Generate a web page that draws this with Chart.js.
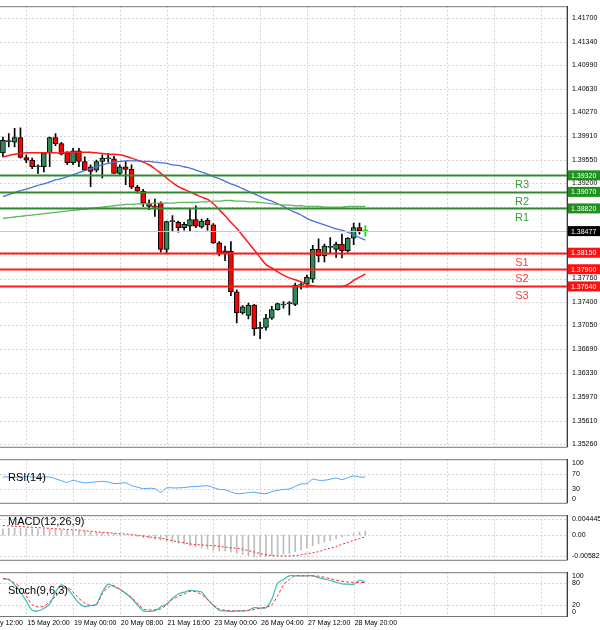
<!DOCTYPE html>
<html><head><meta charset="utf-8">
<script src="https://cdn.jsdelivr.net/npm/chart.js@4.4.0/dist/chart.umd.min.js"></script>
<style>
body{margin:0;background:#fff;width:600px;height:630px;overflow:hidden;font-family:Arial,"Liberation Sans",sans-serif}
.p{position:absolute;left:0;width:600px}
</style></head><body>
<div class="p" style="top:0;height:453px"><canvas id="main"></canvas></div>
<div class="p" style="top:453px;height:56px"><canvas id="rsi"></canvas></div>
<div class="p" style="top:509px;height:57px"><canvas id="macd"></canvas></div>
<div class="p" style="top:566px;height:64px"><canvas id="stoch"></canvas></div>
<script>
// candles (open, high, low, close)
var opens  = [1.3966,1.3983,1.3982,1.3989,1.3959,1.3955,1.3945,1.3945,1.3966,1.3989,1.3980,1.3966,1.3951,1.3969,1.3953,1.3945,1.3940,1.3953,1.3957,1.3957,1.3935,1.3945,1.3941,1.3914,1.3908,1.3890,1.3886,1.3890,1.3820,1.3862,1.3861,1.3853,1.3855,1.3865,1.3854,1.3864,1.3857,1.3830,1.3818,1.3817,1.3756,1.3724,1.3720,1.3736,1.3700,1.3702,1.3716,1.3729,1.3736,1.3738,1.3737,1.3766,1.3768,1.3775,1.3820,1.3810,1.3823,1.3820,1.3828,1.3818,1.3837,1.3853,1.3848];
var highs  = [1.3990,1.3995,1.4003,1.4004,1.3963,1.3958,1.3948,1.3967,1.3990,1.3995,1.3982,1.3968,1.3973,1.3973,1.3960,1.3948,1.3955,1.3963,1.3965,1.3961,1.3948,1.3953,1.3948,1.3917,1.3911,1.3895,1.3896,1.3892,1.3863,1.3871,1.3863,1.3861,1.3881,1.3886,1.3866,1.3867,1.3859,1.3832,1.3825,1.3832,1.3759,1.3735,1.3739,1.3737,1.3710,1.3722,1.3734,1.3739,1.3741,1.3741,1.3769,1.3770,1.3781,1.3826,1.3836,1.3828,1.3838,1.3831,1.3843,1.3838,1.3860,1.3860,1.3856];
var lows   = [1.3960,1.3975,1.3975,1.3958,1.3951,1.3942,1.3935,1.3937,1.3945,1.3977,1.3963,1.3948,1.3948,1.3945,1.3939,1.3915,1.3937,1.3928,1.3952,1.3935,1.3933,1.3918,1.3912,1.3905,1.3885,1.3880,1.3870,1.3816,1.3813,1.3848,1.3846,1.3849,1.3848,1.3853,1.3852,1.3849,1.3829,1.3810,1.3803,1.3750,1.3709,1.3722,1.3715,1.3690,1.3685,1.3698,1.3714,1.3728,1.3731,1.3721,1.3735,1.3760,1.3763,1.3770,1.3801,1.3801,1.3815,1.3808,1.3807,1.3816,1.3827,1.3843,1.3840];
var closes = [1.3985,1.3983,1.3989,1.3959,1.3955,1.3945,1.3945,1.3966,1.3989,1.3980,1.3964,1.3951,1.3969,1.3953,1.3940,1.3938,1.3953,1.3958,1.3957,1.3935,1.3945,1.3941,1.3914,1.3908,1.3890,1.3885,1.3884,1.3820,1.3862,1.3862,1.3853,1.3858,1.3865,1.3855,1.3863,1.3857,1.3830,1.3813,1.3814,1.3756,1.3724,1.3733,1.3736,1.3700,1.3702,1.3716,1.3729,1.3738,1.3737,1.3738,1.3766,1.3766,1.3778,1.3820,1.3810,1.3825,1.3823,1.3828,1.3818,1.3837,1.3853,1.3848,1.3848];
var maFast = [1.3960,1.3962,1.3964,1.3965,1.3966,1.3966,1.3966,1.3966,1.3966,1.3966,1.3966,1.3967,1.3967,1.3967,1.3967,1.3967,1.3966,1.3965,1.3964,1.3964,1.3963,1.3961,1.3958,1.3955,1.3952,1.3948,1.3942,1.3935,1.3928,1.3921,1.3915,1.3911,1.3907,1.3903,1.3899,1.3896,1.3889,1.3880,1.3871,1.3861,1.3852,1.3841,1.3830,1.3819,1.3808,1.3797,1.3792,1.3786,1.3781,1.3777,1.3774,1.3771,1.3767,1.3765,1.3764,1.3764,1.3764,1.3764,1.3764,1.3767,1.3773,1.3778,1.3783];
var maMid = [1.3900,1.3903,1.3906,1.3909,1.3911,1.3914,1.3917,1.3919,1.3922,1.3925,1.3927,1.3930,1.3933,1.3936,1.3939,1.3942,1.3945,1.3948,1.3950,1.3952,1.3953,1.3954,1.3954,1.3954,1.3953,1.3953,1.3952,1.3951,1.3950,1.3948,1.3947,1.3945,1.3943,1.3940,1.3937,1.3934,1.3930,1.3927,1.3923,1.3919,1.3916,1.3912,1.3908,1.3904,1.3900,1.3896,1.3893,1.3889,1.3885,1.3880,1.3876,1.3872,1.3867,1.3863,1.3860,1.3857,1.3854,1.3851,1.3849,1.3846,1.3842,1.3838,1.3834];
var maSlow = [1.3867,1.3868,1.3869,1.3870,1.3871,1.3872,1.3873,1.3874,1.3875,1.3876,1.3877,1.3878,1.3879,1.3880,1.3881,1.3882,1.3883,1.3884,1.3885,1.3886,1.3887,1.3888,1.3888,1.3889,1.3889,1.3889,1.3890,1.3890,1.3890,1.3890,1.3891,1.3891,1.3891,1.3891,1.3892,1.3892,1.3893,1.3893,1.3894,1.3894,1.3893,1.3893,1.3892,1.3892,1.3891,1.3890,1.3889,1.3888,1.3887,1.3887,1.3886,1.3886,1.3885,1.3885,1.3885,1.3884,1.3884,1.3884,1.3884,1.3885,1.3885,1.3885,1.3885];
var rsi = [62,62,61,62,63,62,61,62,62,57,52,47,53,49,46,47,49,50,48,44,45,46,38,34,30,31,30,20,32,32,32,33,35,36,37,38,33,28,27,21,16,17,19,20,17,16,22,25,28,29,36,43,44,56,53,53,56,59,55,60,65,62,62];
var macdHist = [0.0018,0.0019,0.0019,0.0019,0.0018,0.0018,0.0017,0.0017,0.0016,0.0016,0.0015,0.0014,0.0013,0.0012,0.0011,0.0010,0.0008,0.0007,0.0005,0.0004,0.0002,0.0000,-0.0002,-0.0004,-0.0007,-0.0009,-0.0012,-0.0014,-0.0017,-0.0020,-0.0023,-0.0026,-0.0030,-0.0033,-0.0036,-0.0039,-0.0043,-0.0045,-0.0045,-0.0048,-0.0052,-0.0055,-0.0058,-0.0062,-0.0061,-0.0060,-0.0058,-0.0056,-0.0054,-0.0052,-0.0047,-0.0041,-0.0036,-0.0030,-0.0025,-0.0020,-0.0016,-0.0011,-0.0006,-0.0002,0.0004,0.0009,0.0011];
var macdSignal = [0.0027,0.0026,0.0025,0.0024,0.0023,0.0022,0.0021,0.0020,0.0019,0.0018,0.0017,0.0016,0.0015,0.0014,0.0012,0.0011,0.0009,0.0008,0.0007,0.0005,0.0004,0.0003,0.0002,-0.0001,-0.0003,-0.0005,-0.0007,-0.0009,-0.0012,-0.0016,-0.0019,-0.0022,-0.0025,-0.0027,-0.0028,-0.0029,-0.0030,-0.0032,-0.0034,-0.0036,-0.0037,-0.0040,-0.0044,-0.0048,-0.0052,-0.0056,-0.0058,-0.0059,-0.0059,-0.0059,-0.0058,-0.0056,-0.0053,-0.0050,-0.0047,-0.0041,-0.0037,-0.0033,-0.0026,-0.0021,-0.0015,-0.0010,-0.0005];
var stochMain = [92,90,75,55,30,5,3,10,22,55,75,65,45,25,15,18,22,55,77,70,63,52,38,20,3,2,4,14,22,38,50,55,60,58,55,35,18,5,3,2,3,3,5,12,11,12,35,80,90,100,100,100,100,100,95,91,87,82,78,77,77,87,83];
var stochSignal = [92,90,80,68,45,20,14,16,28,43,60,68,55,38,25,18,20,50,68,73,62,52,40,25,8,6,6,8,20,35,43,50,57,56,48,35,20,8,5,3,3,3,4,7,11,13,20,45,75,90,100,100,100,100,99,96,92,88,85,83,82,82,81];

var priceTicks = [1.41700,1.41340,1.40990,1.40630,1.40270,1.39910,1.39550,1.39200,1.38840,1.38480,1.38130,1.37760,1.37400,1.37050,1.36690,1.36330,1.35970,1.35610,1.35260];
var levelNames = ['R3','R2','R1','S1','S2','S3'];
var levelValues = [1.3932,1.3907,1.3882,1.3815,1.3790,1.3764];
var currentPrice = 1.38477;
var dateLabels = ['14 May 12:00','15 May 20:00','19 May 00:00','20 May 08:00','21 May 16:00','23 May 00:00','26 May 04:00','27 May 12:00','28 May 20:00'];
var dateIndex = [-4,4,12,20,28,36,44,52,60];

var SLOTS = 97;
var labels = [];
for (var i = 0; i < SLOTS; i++) labels.push(String(i));
var GREEN = '#2e8b2e', RED = '#ff1a1a';
var FONT = {family: 'Arial, "Liberation Sans"', size: 7};

function xAxis() {
  return {type: 'category', display: false, offset: true};
}
function yAxis(min, max, ticks, fmt) {
  return {
    position: 'right', min: min, max: max,
    afterFit: function(s){ s.width = 33; },
    afterBuildTicks: function(s){ s.ticks = ticks.map(function(v){ return {value: v}; }); },
    ticks: {color: '#000', font: FONT, padding: 2, autoSkip: false, callback: fmt},
    grid: {display: false, drawTicks: true, tickLength: 3},
    border: {color: '#000'}
  };
}

// frame + dashed grid + pane title
function panePlugin(gridVals, title) {
  return {
    id: 'pane',
    beforeDatasetsDraw: function(c) {
      var ctx = c.ctx, a = c.chartArea, x = c.scales.x, y = c.scales.y;
      ctx.save();
      ctx.strokeStyle = '#d4d4d4'; ctx.lineWidth = 1; ctx.setLineDash([2, 2]);
      gridVals.forEach(function(v){
        var py = Math.round(y.getPixelForValue(v)) + 0.5;
        ctx.beginPath(); ctx.moveTo(a.left, py); ctx.lineTo(a.right, py); ctx.stroke();
      });
      for (var k = -4; k < SLOTS; k += 8) {
        var px = Math.round(x.getPixelForValue(k)) + 0.5;
        if (px < a.left || px > a.right) continue;
        ctx.beginPath(); ctx.moveTo(px, a.top); ctx.lineTo(px, a.bottom); ctx.stroke();
      }
      ctx.restore();
    },
    afterDraw: function(c) {
      var ctx = c.ctx, a = c.chartArea;
      ctx.save();
      ctx.strokeStyle = '#777'; ctx.lineWidth = 1;
      ctx.strokeRect(a.left - 1, a.top + 0.5, a.right - a.left + 1, a.bottom - a.top);
      if (title) {
        ctx.fillStyle = '#000'; ctx.font = '11px Arial, "Liberation Sans"';
        ctx.textBaseline = 'middle';
        ctx.fillText(title.text, 8, title.y);
      }
      ctx.restore();
    }
  };
}

function levelPlugin() {
  return {
    id: 'levels',
    afterDatasetsDraw: function(c) {
      var ctx = c.ctx, a = c.chartArea, y = c.scales.y;
      ctx.save();
      var py = Math.round(y.getPixelForValue(currentPrice)) + 0.5;
      ctx.strokeStyle = '#c8c8c8'; ctx.beginPath(); ctx.moveTo(a.left, py); ctx.lineTo(a.right, py); ctx.stroke();
      levelValues.forEach(function(v, i){
        var col = i < 3 ? GREEN : RED;
        var p = Math.round(y.getPixelForValue(v)) + 0.5;
        ctx.strokeStyle = col; ctx.lineWidth = 2;
        ctx.beginPath(); ctx.moveTo(a.left, p); ctx.lineTo(a.right, p); ctx.stroke();
        ctx.fillStyle = i < 3 ? '#3a9a3a' : '#ff3b3b';
        ctx.font = '11px Arial, "Liberation Sans"'; ctx.textAlign = 'center'; ctx.textBaseline = 'middle';
        ctx.fillText(levelNames[i], 522, p + 9);
      });
      function box(v, col) {
        var p = y.getPixelForValue(v);
        ctx.fillStyle = col; ctx.fillRect(a.right + 1, p - 5, 32, 10);
        ctx.fillStyle = '#fff'; ctx.font = '7px Arial, "Liberation Sans"';
        ctx.textAlign = 'left'; ctx.textBaseline = 'middle';
        ctx.fillText(v.toFixed(5), a.right + 4, p + 0.5);
      }
      levelValues.forEach(function(v, i){ box(v, i < 3 ? '#1f8f1f' : '#ff1010'); });
      box(currentPrice, '#000');
      ctx.restore();
    }
  };
}

var bodies = opens.map(function(o, i){ return [Math.min(o, closes[i]), Math.max(o, closes[i])]; });
var wicks = lows.map(function(l, i){ return [l, highs[i]]; });
var bodyColors = opens.map(function(o, i){
  if (i === opens.length - 1) return '#00e000';
  return closes[i] >= o ? '#2e8b57' : '#ff0000';
});
var bodyBorders = bodyColors.map(function(c, i){ return i === opens.length - 1 ? '#00e000' : '#000'; });
var wickColors = bodyColors.map(function(c, i){ return i === opens.length - 1 ? '#00e000' : '#000'; });

function line(data, color, width, dash) {
  return {type: 'line', data: data, borderColor: color, borderWidth: width, borderDash: dash || [],
    pointRadius: 0, tension: 0.3, fill: false};
}
var common = {responsive: true, maintainAspectRatio: false, animation: false,
  plugins: {legend: {display: false}, tooltip: {enabled: false}}};

new Chart(document.getElementById('main'), {
  type: 'bar',
  data: {labels: labels, datasets: [
    line(maSlow, '#5cb85c', 1.3),
    line(maMid, '#4a6fe0', 1.3),
    line(maFast, '#ff1a1a', 1.5),
    {data: wicks, backgroundColor: wickColors, barThickness: 1, grouped: false, order: 2},
    {data: bodies, backgroundColor: bodyColors, borderColor: bodyBorders, borderWidth: 1,
      barThickness: 5, grouped: false, minBarLength: 1, borderSkipped: false, order: 1}
  ]},
  options: Object.assign({}, common, {
    layout: {padding: {top: 3, bottom: 0, left: 0}},
    scales: {x: xAxis(), y: yAxis(1.35215, 1.41878, priceTicks, function(v){ return v.toFixed(5); })}
  }),
  plugins: [panePlugin(priceTicks), levelPlugin()]
});

new Chart(document.getElementById('rsi'), {
  type: 'line',
  data: {labels: labels, datasets: [line(rsi, '#4da3ff', 1, [])]},
  options: Object.assign({}, common, {
    layout: {padding: {top: 0, bottom: 0}},
    scales: {x: xAxis(), y: yAxis(-9, 111, [100, 70, 30, 0], function(v){ return String(v); })}
  }),
  plugins: [panePlugin([70, 30], {text: 'RSI(14)', y: 25})]
});

new Chart(document.getElementById('macd'), {
  type: 'bar',
  data: {labels: labels, datasets: [
    {type: 'line', data: macdSignal, borderColor: '#ff2020', borderWidth: 1, borderDash: [2, 2], pointRadius: 0, order: 0},
    {data: macdHist, backgroundColor: '#bdbdbd', barThickness: 1, order: 1}
  ]},
  options: Object.assign({}, common, {
    layout: {padding: {top: 1, bottom: 0}},
    scales: {x: xAxis(), y: yAxis(-0.00699, 0.00562, [0.004445, 0, -0.005827], function(v){
      return v === 0 ? '0.00' : String(v); })}
  }),
  plugins: [panePlugin([0.004445, 0, -0.005827], {text: 'MACD(12,26,9)', y: 13})]
});

var dateLabelPlugin = {
  id: 'dates',
  afterDraw: function(c) {
    var ctx = c.ctx, x = c.scales.x, a = c.chartArea;
    ctx.save();
    ctx.fillStyle = '#000'; ctx.font = '7px Arial, "Liberation Sans"'; ctx.textBaseline = 'middle';
    dateLabels.forEach(function(t, i){
      ctx.fillText(t, x.getPixelForValue(dateIndex[i]) + 1, a.bottom + 7);
    });
    ctx.restore();
  }
};
new Chart(document.getElementById('stoch'), {
  type: 'line',
  data: {labels: labels, datasets: [
    line(stochSignal, '#ff3030', 1, [3, 2]),
    line(stochMain, '#3cbcbc', 1.2)
  ]},
  options: Object.assign({}, common, {
    layout: {padding: {top: 1, bottom: 14}},
    scales: {x: xAxis(), y: yAxis(-11, 110, [100, 80, 20, 0], function(v){ return String(v); })}
  }),
  plugins: [panePlugin([80, 20], {text: 'Stoch(9,6,3)', y: 25}), dateLabelPlugin]
});
</script>
</body></html>
